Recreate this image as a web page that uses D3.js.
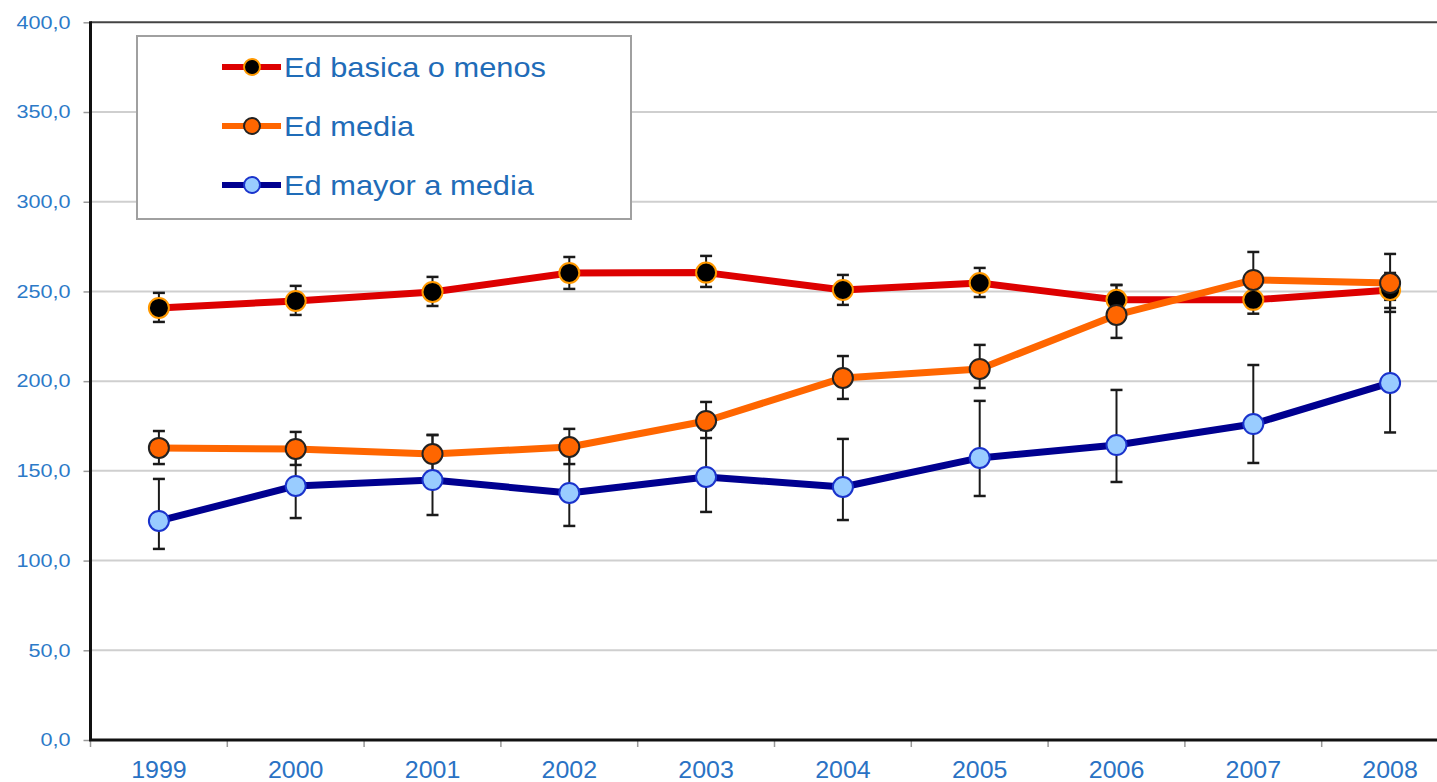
<!DOCTYPE html>
<html>
<head>
<meta charset="utf-8">
<script src="https://cdn.jsdelivr.net/npm/d3@7"></script>
<style>
  body { margin: 0; background: #fff; }
  svg { display: block; font-family: "Liberation Sans", Arial, sans-serif; }
</style>
</head>
<body>
<svg id="chart" width="1437" height="782"></svg>
<script>
// ---- data ----
const years = ['1999', '2000', '2001', '2002', '2003', '2004', '2005', '2006', '2007', '2008'];
const yTicks = [0, 50, 100, 150, 200, 250, 300, 350, 400];

const basicaVal = [240.8, 244.7, 249.7, 260.3, 260.5, 250.8, 254.7, 245.3, 245.3, 250.8];
const basicaLo  = [233.0, 236.9, 241.9, 251.4, 252.5, 242.5, 246.9, 237.0, 237.6, 240.8];
const basicaHi  = [249.2, 253.1, 258.1, 269.2, 269.8, 259.2, 263.1, 253.6, 252.5, 260.3];

const mediaVal = [162.8, 162.2, 159.4, 163.3, 177.8, 201.8, 206.8, 236.9, 256.4, 254.7];
const mediaLo  = [153.8, 153.3, 149.4, 153.8, 168.3, 190.1, 196.2, 224.1, 243.0, 238.6];
const mediaHi  = [172.2, 171.7, 170.0, 173.4, 188.4, 214.0, 220.2, 253.6, 272.0, 270.9];

const mayorVal = [122.1, 141.6, 144.9, 137.7, 146.6, 141.0, 157.2, 164.4, 176.1, 199.0];
const mayorLo  = [106.5, 123.7, 125.4, 119.3, 127.1, 122.6, 136.0, 143.8, 154.4, 171.4];
const mayorHi  = [145.5, 166.7, 170.0, 161.6, 172.8, 167.8, 189.0, 195.1, 209.0, 245.3];

const seriesNames = ['Ed basica o menos', 'Ed media', 'Ed mayor a media'];

// drawing order: blue underneath, orange on top
const series = [
  { name: seriesNames[2], val: mayorVal, lo: mayorLo, hi: mayorHi,
    line: '#000090', fill: '#99ccff', stroke: '#1a33cc', r: 10 },
  { name: seriesNames[0], val: basicaVal, lo: basicaLo, hi: basicaHi,
    line: '#dd0000', fill: '#000000', stroke: '#ff9900', r: 10 },
  { name: seriesNames[1], val: mediaVal, lo: mediaLo, hi: mediaHi,
    line: '#ff6600', fill: '#ff6600', stroke: '#222222', r: 10 },
];

const W = 1437, H = 782;
const plotLeft = 90.5, plotTop = 22.3, plotBottom = 740;
const svg = d3.select('#chart');

const x = d3.scaleBand().domain(years).range([plotLeft, plotLeft + 10 * 136.8]);
const y = d3.scaleLinear().domain([0, 400]).range([plotBottom, plotTop]);
const cx = d => x(d) + x.bandwidth() / 2;

// the source picture is a bit stretched sideways, so text gets widened too
const stretch = (sel, k) => sel.each(function () {
  const w = this.getComputedTextLength();
  d3.select(this).attr('textLength', w * k).attr('lengthAdjust', 'spacingAndGlyphs');
});

// gridlines
svg.append('g')
  .selectAll('line')
  .data(yTicks.filter(t => t > 0 && t < 400))
  .enter().append('line')
  .attr('x1', plotLeft).attr('x2', W)
  .attr('y1', d => y(d)).attr('y2', d => y(d))
  .attr('stroke', '#cfcfcf').attr('stroke-width', 2);

// top border of plot area
svg.append('line')
  .attr('x1', plotLeft).attr('x2', W)
  .attr('y1', plotTop).attr('y2', plotTop)
  .attr('stroke', '#444').attr('stroke-width', 2);

// y axis
const yAxis = svg.append('g')
  .attr('transform', 'translate(' + plotLeft + ',0)')
  .call(d3.axisLeft(y).tickValues(yTicks).tickSize(7).tickPadding(13)
    .tickFormat(d => d3.format('.1f')(d).replace('.', ',')));
yAxis.select('.domain').remove();
yAxis.selectAll('.tick line').attr('stroke', '#999').attr('stroke-width', 1.5);
yAxis.selectAll('.tick text')
  .attr('fill', '#2c7ac8').style('font-size', '18px')
  .call(stretch, 1.2);

// x axis
const xAxis = svg.append('g')
  .attr('transform', 'translate(0,' + plotBottom + ')')
  .call(d3.axisBottom(x).tickSize(0));
xAxis.select('.domain').remove();
xAxis.selectAll('.tick text')
  .attr('y', 38).attr('dy', 0)
  .attr('fill', '#2a72c4').style('font-size', '24px')
  .call(stretch, 1.04);
svg.append('g')
  .selectAll('line')
  .data(years.concat(['end']))
  .enter().append('line')
  .attr('x1', (d, i) => plotLeft + i * x.step()).attr('x2', (d, i) => plotLeft + i * x.step())
  .attr('y1', plotBottom).attr('y2', plotBottom + 7)
  .attr('stroke', '#999').attr('stroke-width', 1.5);

// axis lines
svg.append('line')
  .attr('x1', plotLeft).attr('x2', plotLeft).attr('y1', plotTop - 1).attr('y2', plotBottom)
  .attr('stroke', '#111').attr('stroke-width', 3);
svg.append('line')
  .attr('x1', plotLeft - 1.5).attr('x2', W).attr('y1', plotBottom).attr('y2', plotBottom)
  .attr('stroke', '#111').attr('stroke-width', 3);

// series lines
const line = d3.line().x((d, i) => cx(years[i])).y(d => y(d));
series.forEach(s => {
  svg.append('path')
    .datum(s.val)
    .attr('d', line)
    .attr('fill', 'none')
    .attr('stroke', s.line)
    .attr('stroke-width', 7)
    .attr('stroke-linejoin', 'round');
});

// error bars
series.forEach(s => {
  const g = svg.append('g').attr('stroke', '#1a1a1a').attr('stroke-width', 2);
  years.forEach((yr, i) => {
    const px = cx(yr);
    g.append('line').attr('x1', px).attr('x2', px)
      .attr('y1', y(s.lo[i])).attr('y2', y(s.hi[i]));
    [s.lo[i], s.hi[i]].forEach(v => {
      g.append('line').attr('x1', px - 6).attr('x2', px + 6)
        .attr('y1', y(v)).attr('y2', y(v)).attr('stroke-width', 2.5);
    });
  });
});

// markers
series.forEach(s => {
  svg.append('g')
    .selectAll('circle')
    .data(s.val)
    .enter().append('circle')
    .attr('cx', (d, i) => cx(years[i]))
    .attr('cy', d => y(d))
    .attr('r', s.r)
    .attr('fill', s.fill)
    .attr('stroke', s.stroke)
    .attr('stroke-width', 2);
});

// legend
const legend = svg.append('g');
legend.append('rect')
  .attr('x', 137).attr('y', 36).attr('width', 494).attr('height', 183)
  .attr('fill', '#fff').attr('stroke', '#a0a0a0').attr('stroke-width', 2);
const legendOrder = [series[1], series[2], series[0]];
legendOrder.forEach((s, i) => {
  const ly = 67 + i * 59;
  legend.append('line')
    .attr('x1', 222).attr('x2', 281).attr('y1', ly).attr('y2', ly)
    .attr('stroke', s.line).attr('stroke-width', 6);
  legend.append('circle')
    .attr('cx', 252).attr('cy', ly).attr('r', 8)
    .attr('fill', s.fill).attr('stroke', s.stroke).attr('stroke-width', 2);
  legend.append('text')
    .attr('x', 284).attr('y', ly + 10)
    .attr('fill', '#1f6cb8')
    .style('font-size', '28px')
    .text(s.name)
    .call(stretch, 1.1);
});
</script>
</body>
</html>
